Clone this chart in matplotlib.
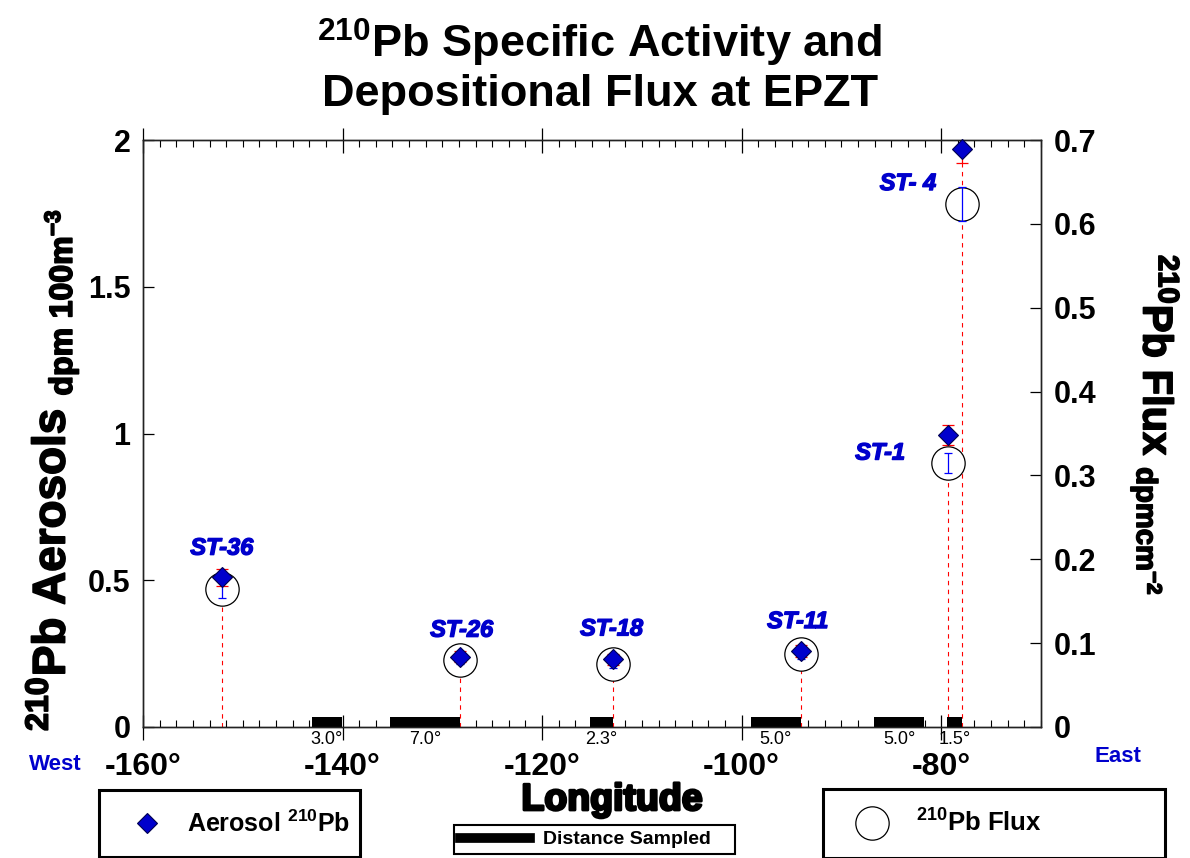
import matplotlib
matplotlib.use('Agg')
import matplotlib.pyplot as plt
from matplotlib.ticker import MultipleLocator, FuncFormatter
from matplotlib.lines import Line2D
import matplotlib.patheffects as pe

plt.rcParams['font.family'] = ['Liberation Sans', 'DejaVu Sans']
plt.rcParams['font.weight'] = 'bold'
plt.rcParams['axes.labelweight'] = 'bold'
plt.rcParams['mathtext.fontset'] = 'custom'
plt.rcParams['mathtext.rm'] = 'Liberation Sans:bold'
plt.rcParams['mathtext.bf'] = 'Liberation Sans:bold'
plt.rcParams['mathtext.it'] = 'Liberation Sans:bold:italic'
plt.rcParams['mathtext.default'] = 'bf'

# ---- data ----
stations = ['ST-36', 'ST-26', 'ST-18', 'ST-11', 'ST-1', 'ST- 4']
longitude = [-152.1, -128.2, -112.9, -94.1, -79.3, -77.9]
aerosol = [0.51, 0.24, 0.23, 0.26, 0.995, 1.97]
aerosol_err = [0.03, 0.02, 0.02, 0.02, 0.034, 0.05]
flux = [0.164, 0.080, 0.075, 0.087, 0.315, 0.624]
flux_err = [0.010, 0.005, 0.005, 0.006, 0.012, 0.02]
seg_start = [-143.1, -135.2, -115.2, -99.1, -86.7, -79.4]
seg_width = [3.0, 7.0, 2.3, 5.0, 5.0, 1.5]
seg_labels = ['3.0°', '7.0°', '2.3°', '5.0°', '5.0°', '1.5°']

# label offsets (points) for station names
label_offsets = [(0, 21), (1, 19), (-1, 22), (-2, 21), (-49, -13), (-39, -25)]

BLUE = '#0000CC'

fig = plt.figure(figsize=(11.9, 8.58), dpi=100)
ax = fig.add_axes([143/1190, 1 - 727/858, 898/1190, 587/858])
ax2 = ax.twinx()
ax.set_zorder(ax2.get_zorder() + 1)
ax.patch.set_visible(False)

# drop lines (behind the flux circles)
ax2.vlines(longitude, 0, aerosol, colors='red', linestyles=(0, (4, 4)),
           linewidth=0.8, transform=ax.transData, zorder=1)
# flux circles
ax2.plot(longitude, flux, 'o', ms=24, mfc='white', mec='black', mew=0.9,
         ls='none', zorder=2)
ax2.errorbar(longitude, flux, yerr=flux_err, fmt='none', ecolor='#0000FF',
             elinewidth=0.9, capsize=3, capthick=0.9, zorder=3)

# distance sampled bars
ax.bar(seg_start, 0.035, width=seg_width, align='edge', color='black', zorder=2)
for s, w, t in zip(seg_start, seg_width, seg_labels):
    ax.annotate(t, xy=(s + w / 2, 0), xytext=(0, -3), textcoords='offset points',
                ha='center', va='top', fontsize=13, fontweight='normal',
                annotation_clip=False)

# aerosol
ax.errorbar(longitude, aerosol, yerr=aerosol_err, fmt='none', ecolor='red',
            elinewidth=0.9, capsize=4, capthick=0.9, zorder=3)
ax.plot(longitude, aerosol, 'D', ms=10, mfc=BLUE, mec='#000050', mew=0.8,
        ls='none', zorder=4, clip_on=False)

for name, lon, val, off in zip(stations, longitude, aerosol, label_offsets):
    ax.annotate(name, xy=(lon, val), xytext=off, textcoords='offset points',
                ha='center', va='center', fontsize=17, fontstyle='italic',
                color=BLUE,
                path_effects=[pe.withStroke(linewidth=1.0, foreground=BLUE)])

# axes limits and ticks
ax.set_xlim(-160, -70)
ax.set_ylim(0, 2)
ax2.set_ylim(0, 0.7)

ax.xaxis.set_major_locator(MultipleLocator(20))
ax.xaxis.set_minor_locator(MultipleLocator(20 / 12))
ax.yaxis.set_major_locator(MultipleLocator(0.5))
ax2.yaxis.set_major_locator(MultipleLocator(0.1))
ax.xaxis.set_major_formatter(FuncFormatter(lambda v, p: f'{v:.0f}°'))
ax.yaxis.set_major_formatter(FuncFormatter(lambda v, p: f'{v:g}'))
ax2.yaxis.set_major_formatter(FuncFormatter(lambda v, p: '0' if abs(v) < 1e-9 else f'{v:.1f}'))

ax.tick_params(axis='x', which='major', direction='inout', length=18, width=0.9,
               top=True, bottom=True, labelsize=23, pad=9)
ax.tick_params(axis='x', which='minor', direction='in', length=5, width=0.8,
               top=True, bottom=True)
ax.tick_params(axis='y', direction='in', length=8, width=0.9, labelsize=22,
               pad=9, right=False)
ax2.tick_params(axis='y', direction='in', length=8, width=0.9, labelsize=22, pad=9)

for a in (ax, ax2):
    for sp in a.spines.values():
        sp.set_linewidth(1.0)
        sp.set_color('#222222')

heavy = [pe.withStroke(linewidth=1.2, foreground='black')]

# axis labels
ax.set_ylabel(r'$^{210}$Pb Aerosols $_{dpm\ 100m^{-3}}$', fontsize=33,
              fontweight='bold', path_effects=heavy)
ax.yaxis.label.set_rotation_mode('default')
ax.yaxis.label.set_va('center')
ax.yaxis.label.set_ha('center')
ax.yaxis.set_label_coords((52 - 143) / 898, (727 - 470) / 587)

ax2.set_ylabel(r'$^{210}$Pb Flux $_{dpmcm^{-2}}$', fontsize=30, rotation=270,
               fontweight='bold', path_effects=heavy)
ax2.yaxis.label.set_rotation_mode('default')
ax2.yaxis.label.set_va('center')
ax2.yaxis.label.set_ha('center')
ax2.yaxis.set_label_coords((1155 - 143) / 898, (727 - 425) / 587)

ax.set_xlabel('Longitude', fontsize=27, fontweight='bold',
              path_effects=[pe.withStroke(linewidth=2.0, foreground='black')])
ax.xaxis.label.set_va('center')
ax.xaxis.set_label_coords((612 - 143) / 898, (727 - 800) / 587)

fig.text(55 / 1190, 1 - 765 / 858, 'West', color=BLUE, fontsize=16,
         ha='center', va='center')
fig.text(1118 / 1190, 1 - 757 / 858, 'East', color=BLUE, fontsize=16,
         ha='center', va='center')

fig.text(0.504, 1 - 66 / 858,
         r'$^{210}$Pb Specific Activity and' + '\n' + 'Depositional Flux at EPZT',
         fontsize=32.5, ha='center', va='center', linespacing=1.15)

# legends
h1 = Line2D([], [], marker='D', ls='none', ms=10, mfc=BLUE, mec='#000050', mew=0.8)
h2 = Line2D([], [], color='black', lw=7)
h3 = Line2D([], [], marker='o', ls='none', ms=24, mfc='white', mec='black', mew=0.9)

common = dict(loc='center left', mode='expand', borderaxespad=0, fancybox=False,
              edgecolor='black', framealpha=1)
leg1 = fig.legend([h1], [r'Aerosol $^{210}$Pb'],
                  bbox_to_anchor=(99 / 1190, 1 - 823.5 / 858, 261 / 1190, 0),
                  fontsize=18, borderpad=0.82, handlelength=2.2, handletextpad=0.5,
                  **common)
leg1.get_frame().set_linewidth(2.2)
leg2 = fig.legend([h2], ['Distance Sampled'],
                  bbox_to_anchor=(454 / 1190, 1 - 839.5 / 858, 281 / 1190, 0),
                  fontsize=14, borderpad=0.3, handlelength=3.6, handletextpad=0.7,
                  **common)
leg2.get_frame().set_linewidth(1.5)
leg3 = fig.legend([h3], [r'$^{210}$Pb Flux'],
                  bbox_to_anchor=(823 / 1190, 1 - 823.5 / 858, 342 / 1190, 0),
                  fontsize=18.5, borderpad=0.8, handlelength=2.2, handletextpad=0.6,
                  **common)
leg3.get_frame().set_linewidth(2.2)

fig.savefig('out.png', dpi=100)
